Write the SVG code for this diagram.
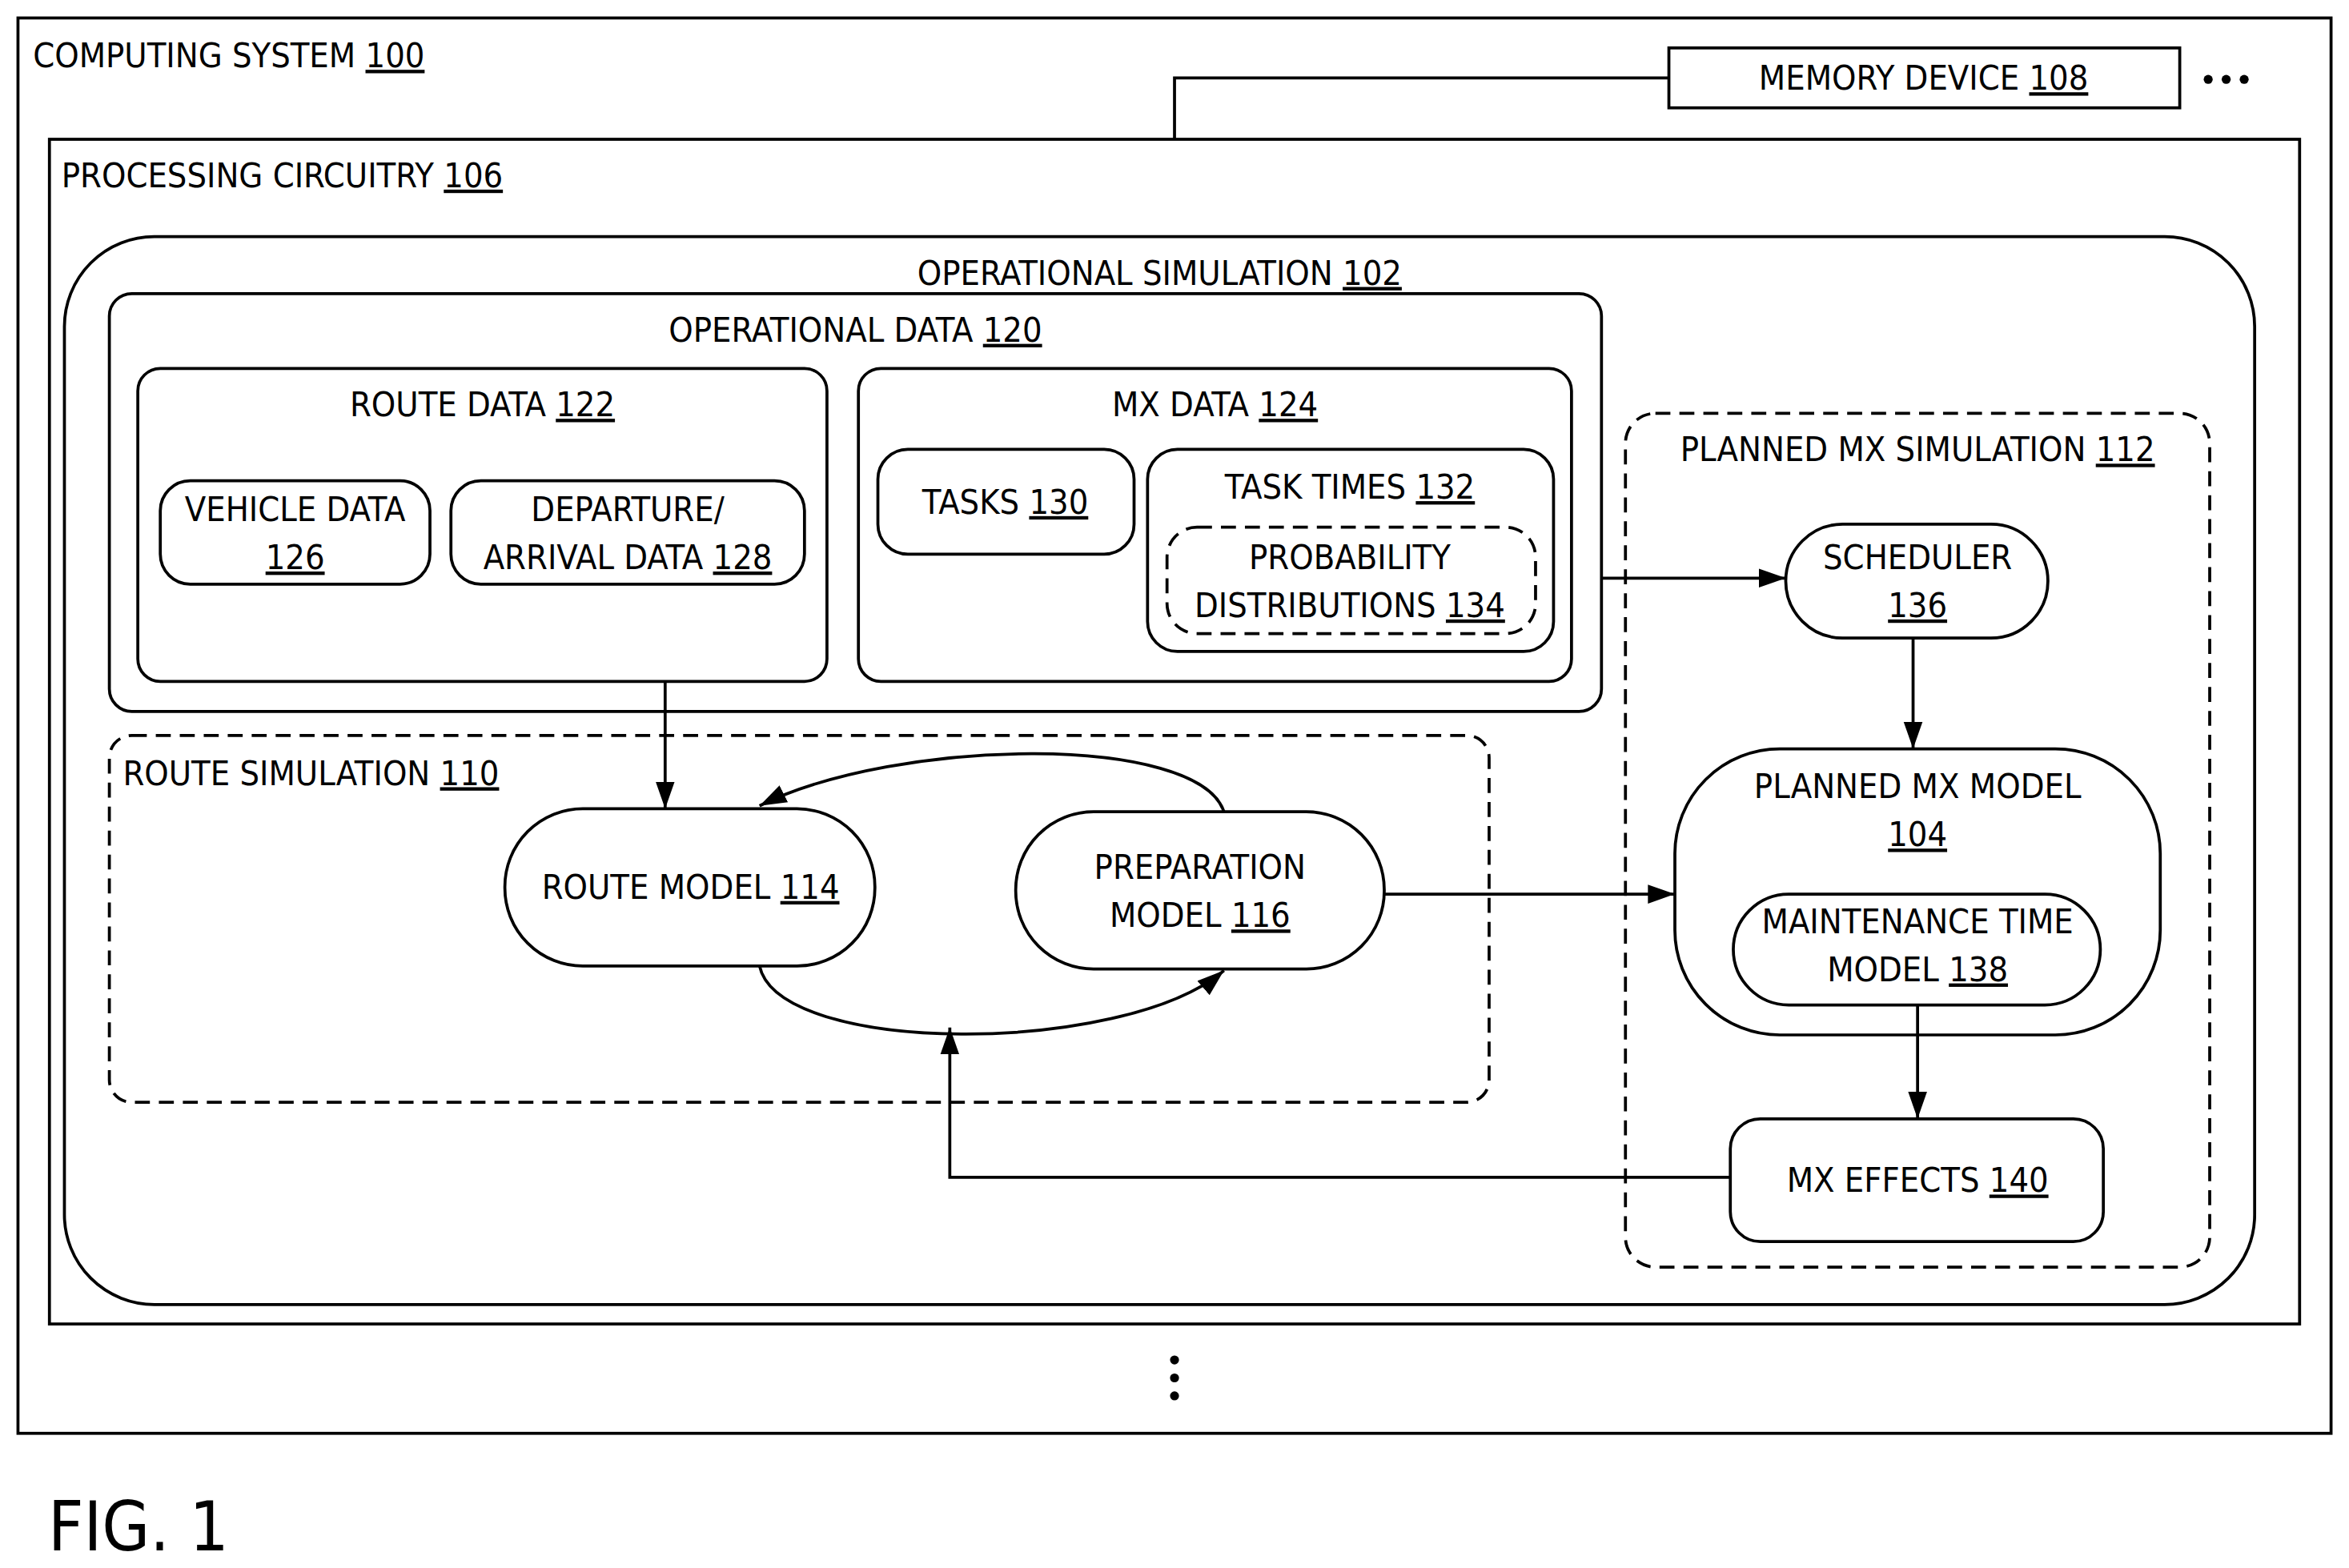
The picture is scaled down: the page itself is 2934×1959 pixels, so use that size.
<svg xmlns="http://www.w3.org/2000/svg" width="2934" height="1959" viewBox="0 0 2934 1959">
<style>
text{font-family:"Liberation Sans Narrow","DejaVu Sans Condensed","Liberation Sans",sans-serif;font-stretch:condensed;font-size:23px;fill:#000}
.c{text-anchor:middle}
.u{text-decoration:underline}
.b{fill:#fff;stroke:#000;stroke-width:2}
.d{fill:none;stroke:#000;stroke-width:2;stroke-dasharray:10,6}
.l{fill:none;stroke:#000;stroke-width:2}
</style>
<defs><marker id="m" viewBox="0 0 10 10" refX="10" refY="5" markerWidth="18" markerHeight="18" markerUnits="userSpaceOnUse" orient="auto"><path d="M0,1.5L10,5L0,8.5z"/></marker></defs>
<rect width="2934" height="1959" fill="#fff"/>
<g transform="scale(1.8712)">
<g id="computing"><rect x="12" y="12" width="1544" height="945" class="b"/><text x="22" y="45">COMPUTING SYSTEM <tspan class="u">100</tspan></text>
<circle cx="1474" cy="53" r="3"/><circle cx="1486" cy="53" r="3"/><circle cx="1498" cy="53" r="3"/>
<circle cx="784" cy="908" r="3"/><circle cx="784" cy="920" r="3"/><circle cx="784" cy="932" r="3"/></g>
<g id="memory"><rect x="1114" y="32" width="341" height="40" class="b"/><text x="1284" y="60" class="c">MEMORY DEVICE <tspan class="u">108</tspan></text></g>
<g id="processing"><rect x="33" y="93" width="1502" height="791" class="b"/><text x="41" y="125">PROCESSING CIRCUITRY <tspan class="u">106</tspan></text></g>
<g id="opsim"><rect x="43" y="158" width="1462" height="713" rx="60" class="b"/><text x="774" y="190" class="c">OPERATIONAL SIMULATION <tspan class="u">102</tspan></text></g>
<g id="opdata"><rect x="73" y="196" width="996" height="279" rx="15" class="b"/><text x="571" y="228" class="c">OPERATIONAL DATA <tspan class="u">120</tspan></text></g>
<g id="routedata"><rect x="92" y="246" width="460" height="209" rx="15" class="b"/><text x="322" y="278" class="c">ROUTE DATA <tspan class="u">122</tspan></text></g>
<g id="vehicle"><rect x="107" y="321" width="180" height="69" rx="20" class="b"/><text x="197" y="348" class="c">VEHICLE DATA</text><text x="197" y="380" class="c u">126</text></g>
<g id="departure"><rect x="301" y="321" width="236" height="69" rx="20" class="b"/><text x="419" y="348" class="c">DEPARTURE/</text><text x="419" y="380" class="c">ARRIVAL DATA <tspan class="u">128</tspan></text></g>
<g id="mxdata"><rect x="573" y="246" width="476" height="209" rx="15" class="b"/><text x="811" y="278" class="c">MX DATA <tspan class="u">124</tspan></text></g>
<g id="tasks"><rect x="586" y="300" width="171" height="70" rx="20" class="b"/><text x="671" y="343" class="c">TASKS <tspan class="u">130</tspan></text></g>
<g id="tasktimes"><rect x="766" y="300" width="271" height="135" rx="20" class="b"/><text x="901" y="333" class="c">TASK TIMES <tspan class="u">132</tspan></text></g>
<g id="prob"><rect x="779" y="352" width="246" height="71" rx="20" class="d"/><text x="901" y="380" class="c">PROBABILITY</text><text x="901" y="412" class="c">DISTRIBUTIONS <tspan class="u">134</tspan></text></g>
<g id="plannedsim"><rect x="1085" y="276" width="390" height="570" rx="20" class="d"/><text x="1280" y="308" class="c">PLANNED MX SIMULATION <tspan class="u">112</tspan></text></g>
<g id="scheduler"><rect x="1192" y="350" width="175" height="76" rx="38" class="b"/><text x="1280" y="380" class="c">SCHEDULER</text><text x="1280" y="412" class="c u">136</text></g>
<g id="plannedmodel"><rect x="1118" y="500" width="324" height="191" rx="70" class="b"/><text x="1280" y="533" class="c">PLANNED MX MODEL</text><text x="1280" y="565" class="c u">104</text></g>
<g id="mtm"><rect x="1157" y="597" width="245" height="74" rx="37" class="b"/><text x="1280" y="623" class="c">MAINTENANCE TIME</text><text x="1280" y="655" class="c">MODEL <tspan class="u">138</tspan></text></g>
<g id="effects"><rect x="1155" y="747" width="249" height="82" rx="20" class="b"/><text x="1280" y="796" class="c">MX EFFECTS <tspan class="u">140</tspan></text></g>
<g id="routesim"><rect x="73" y="491" width="921" height="245" rx="15" class="d"/><text x="82" y="524">ROUTE SIMULATION <tspan class="u">110</tspan></text></g>
<g id="routemodel"><rect x="337" y="540" width="247" height="105" rx="52" class="b"/><text x="461" y="600" class="c">ROUTE MODEL <tspan class="u">114</tspan></text></g>
<g id="prepmodel"><rect x="678" y="542" width="246" height="105" rx="52" class="b"/><text x="801" y="587" class="c">PREPARATION</text><text x="801" y="619" class="c">MODEL <tspan class="u">116</tspan></text></g>
<g id="connectors">
<path d="M784,93V52H1114" class="l"/>
<path d="M444,455V540" class="l" marker-end="url(#m)"/>
<path d="M1069,386H1192" class="l" marker-end="url(#m)"/>
<path d="M1277,426V500" class="l" marker-end="url(#m)"/>
<path d="M924,597H1118" class="l" marker-end="url(#m)"/>
<path d="M1280,671V747" class="l" marker-end="url(#m)"/>
<path d="M1155,786H634V686" class="l" marker-end="url(#m)"/>
<path d="M817,542C800,490 600,492 507,538" class="l" marker-end="url(#m)"/>
<path d="M507,645C520,705 750,705 817,648" class="l" marker-end="url(#m)"/>
</g>
<text x="32" y="1035" style="font-size:46px">FIG. 1</text>
</g>
</svg>
